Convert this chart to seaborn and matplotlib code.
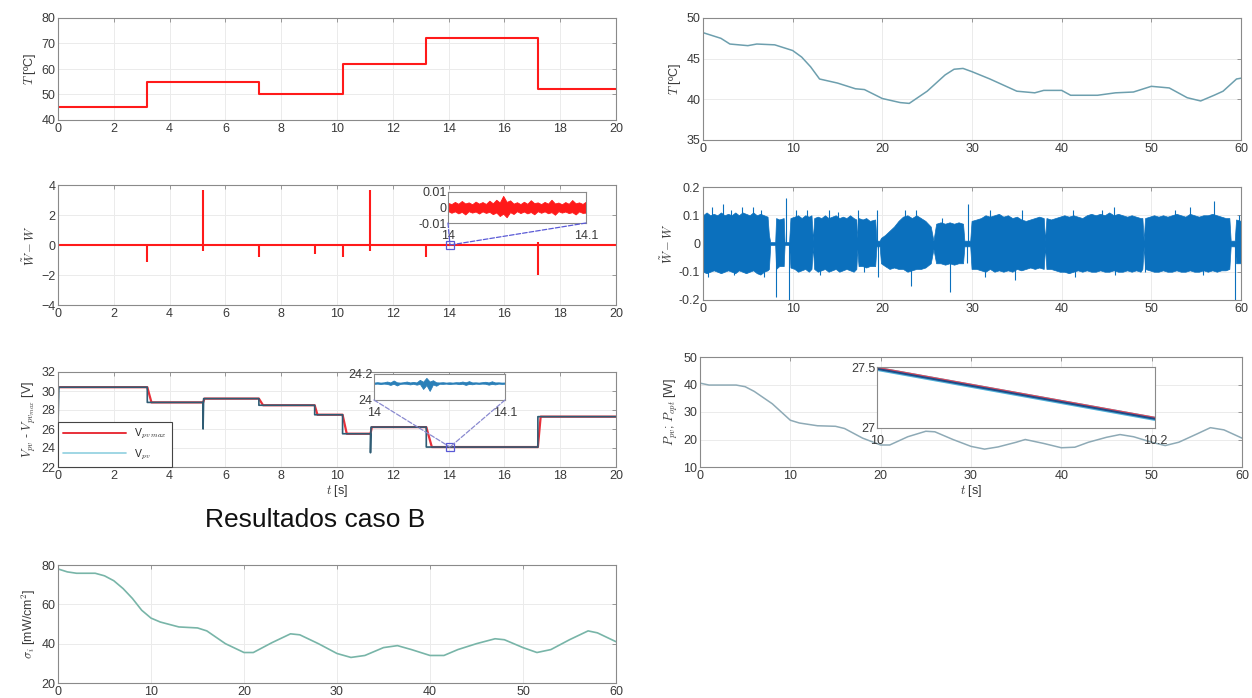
import numpy as np
import matplotlib
matplotlib.use('Agg')
import matplotlib.pyplot as plt
from matplotlib.patches import ConnectionPatch
from matplotlib.lines import Line2D
import seaborn as sns

# ---------------- data ----------------
# left column, 0-20 s
temp_step_t = [0, 3.2, 7.2, 10.2, 13.2, 17.2, 20]
temp_step_v = [45, 55, 50, 62, 72, 52, 52]

err_base_t = [0, 20]
err_base_v = [0, 0]
spike_t = [3.2, 5.2, 7.2, 9.2, 10.2, 11.2, 13.2, 17.2]
spike_lo = [-1.1, -0.4, -0.8, -0.6, -0.8, -0.4, -0.8, -2.0]
spike_hi = [0, 3.7, 0, 0, 0, 3.7, 0, 0.2]

# zoom of the error at 14-14.1 s (envelope of the noise)
err_zoom_t = [14.0, 14.0025, 14.005, 14.0075, 14.01, 14.0125, 14.015, 14.0175, 14.02, 14.0225,
              14.025, 14.0275, 14.03, 14.0325, 14.035, 14.0375, 14.04, 14.0425, 14.045, 14.0475,
              14.05, 14.0525, 14.055, 14.0575, 14.06, 14.0625, 14.065, 14.0675, 14.07, 14.0725,
              14.075, 14.0775, 14.08, 14.0825, 14.085, 14.0875, 14.09, 14.0925, 14.095, 14.0975, 14.1]
err_zoom_hi = [0.0030, 0.0022, 0.0036, 0.0024, 0.0042, 0.0026, 0.0033, 0.0021, 0.0038, 0.0025,
               0.0035, 0.0023, 0.0044, 0.0027, 0.0050, 0.0032, 0.0075, 0.0036, 0.0046, 0.0025,
               0.0034, 0.0022, 0.0037, 0.0024, 0.0047, 0.0028, 0.0033, 0.0022, 0.0036, 0.0025,
               0.0050, 0.0026, 0.0032, 0.0021, 0.0035, 0.0024, 0.0048, 0.0027, 0.0033, 0.0023, 0.0038]
err_zoom_lo = [-0.0023, -0.0034, -0.0025, -0.0038, -0.0028, -0.0045, -0.0024, -0.0033, -0.0026, -0.0039,
               -0.0025, -0.0035, -0.0028, -0.0043, -0.0032, -0.0055, -0.0040, -0.0063, -0.0030, -0.0042,
               -0.0024, -0.0036, -0.0026, -0.0038, -0.0029, -0.0044, -0.0024, -0.0034, -0.0025, -0.0037,
               -0.0030, -0.0047, -0.0024, -0.0033, -0.0026, -0.0036, -0.0030, -0.0045, -0.0025, -0.0035, -0.0033]

# PV voltage (Vpv max red, Vpv measured)
vmax_t = [0, 3.2, 3.35, 5.2, 5.25, 7.2, 7.35, 9.2, 9.3, 10.2, 10.35, 11.2, 11.25, 13.2, 13.4, 17.2, 17.3, 20]
vmax_v = [30.4, 30.4, 28.8, 28.8, 29.2, 29.2, 28.5, 28.5, 27.5, 27.5, 25.5, 25.5, 26.2, 26.2, 24.1, 24.1, 27.3, 27.3]
vpv_t = [0, 0.03, 3.2, 3.2, 5.2, 5.2, 5.22, 7.2, 7.2, 9.2, 9.2, 10.2, 10.2, 11.2, 11.2, 11.22,
         13.2, 13.2, 17.2, 17.2, 20]
vpv_v = [26.5, 30.4, 30.4, 28.8, 28.8, 26.0, 29.2, 29.2, 28.5, 28.5, 27.5, 27.5, 25.5, 25.5, 23.5, 26.2,
         26.2, 24.1, 24.1, 27.3, 27.3]
vpv_zoom_t = err_zoom_t
vpv_zoom_base = 24.13
vpv_zoom_up = [0.004, 0.007, 0.004, 0.006, 0.012, 0.005, 0.020, 0.006, 0.004, 0.007,
               0.012, 0.005, 0.009, 0.005, 0.025, 0.010, 0.040, 0.012, 0.022, 0.006,
               0.005, 0.007, 0.004, 0.006, 0.004, 0.007, 0.006, 0.012, 0.006, 0.015,
               0.005, 0.006, 0.004, 0.007, 0.010, 0.005, 0.014, 0.005, 0.006, 0.004, 0.005]
vpv_zoom_dn = [0.006, 0.004, 0.007, 0.004, 0.006, 0.014, 0.005, 0.018, 0.006, 0.004,
               0.005, 0.010, 0.005, 0.012, 0.006, 0.045, 0.015, 0.060, 0.010, 0.020,
               0.005, 0.006, 0.004, 0.007, 0.005, 0.004, 0.008, 0.005, 0.014, 0.006,
               0.009, 0.004, 0.006, 0.004, 0.005, 0.012, 0.006, 0.010, 0.004, 0.006, 0.005]

# irradiance sigma_i, 0-60 s
sig_t = [0, 1, 2, 4, 5, 6, 7, 8, 9, 10, 11, 13, 15, 16, 18, 20, 21, 23, 25, 26, 28, 30, 31.5,
         33, 35, 36.5, 38, 40, 41.5, 43, 45, 47, 48, 50, 51.5, 53, 55, 57, 58, 60]
sig_v = [78, 76.5, 75.8, 75.8, 74.5, 72, 68, 63, 57, 53, 51, 48.5, 48, 46.5, 40, 35.5, 35.5, 40.5,
         45, 44.5, 40, 35, 33, 34, 38, 39, 37, 34, 34, 37, 40, 42.5, 42, 38, 35.5, 37, 42, 46.5, 45.5, 41]

# right column, 0-60 s
tr_t = [0, 2, 3, 5, 6, 8, 10, 11, 12, 13, 15, 17, 18, 20, 22, 23, 25, 27, 28, 29, 30, 32,
        35, 37, 38, 40, 41, 44, 46, 48, 50, 52, 54, 55.5, 57, 58, 59.5, 60]
tr_v = [48.2, 47.5, 46.8, 46.6, 46.8, 46.7, 46.0, 45.2, 44.0, 42.5, 42.0, 41.3, 41.2, 40.1, 39.6,
        39.5, 41.0, 43.0, 43.7, 43.8, 43.4, 42.5, 41.0, 40.8, 41.1, 41.1, 40.5, 40.5, 40.8, 40.9,
        41.6, 41.4, 40.2, 39.8, 40.5, 41.0, 42.5, 42.6]

wr_t = [0, 0.4, 0.8, 1.2, 1.6, 2.0, 2.4, 2.8, 3.2, 3.6, 4.0, 4.4, 4.8, 5.2, 5.6, 6.0, 6.4, 6.8, 7.2,
        7.35, 7.5, 8.05, 8.15, 8.5, 9.0, 9.1, 9.6, 9.75,
        10.2, 10.6, 11.0, 11.4, 11.8, 12.1, 12.25, 12.4,
        12.8, 13.2, 13.6, 14.0, 14.4, 14.8, 15.2, 15.6, 16.0, 16.4, 16.8, 17.1, 17.2, 17.35,
        17.8, 18.2, 18.6, 19.2, 19.35, 19.7, 19.85,
        20.3, 20.8, 21.3, 21.8, 22.3, 22.8, 23.3, 23.8, 24.3, 24.8, 25.4, 25.7, 26.0,
        26.5, 27.0, 27.5, 28.0, 28.5, 29.0, 29.15, 29.8, 29.95,
        30.5, 31.0, 31.5, 32.0, 32.5, 33.0, 33.5, 34.0, 34.5, 35.0, 35.5, 36.0, 36.5, 37.0, 37.5,
        38.0, 38.15, 38.3,
        38.8, 39.3, 39.8, 40.3, 40.8, 41.3, 41.8, 42.3, 42.8, 43.3, 43.8, 44.3, 44.8, 45.3, 45.8,
        46.3, 46.8, 47.3, 47.8, 48.3, 48.8, 49.0, 49.15, 49.3,
        49.8, 50.3, 50.8, 51.3, 51.8, 52.3, 52.8, 53.3, 53.8, 54.3, 54.8, 55.3, 55.8, 56.3, 56.8,
        57.3, 57.8, 58.3, 58.7, 58.85, 59.3, 59.45, 60]
wr_hi = [.10, .11, .10, .105, .10, .11, .10, .105, .10, .11, .10, .11, .105, .10, .11, .10, .105, .10, .095,
         .03, .005, .005, .09, .085, .09, .005, .005, .09,
         .095, .10, .09, .10, .095, .10, .01, .09,
         .095, .09, .10, .09, .095, .10, .09, .095, .09, .10, .09, .085, .02, .09,
         .085, .09, .08, .085, .01, .01, .02,
         .03, .045, .06, .08, .095, .10, .09, .10, .09, .08, .06, .01, .07,
         .075, .07, .075, .07, .075, .07, .01, .01, .08,
         .085, .09, .10, .095, .10, .105, .095, .10, .09, .095, .085, .08, .085, .09, .095,
         .09, .01, .09,
         .085, .09, .095, .10, .095, .10, .095, .09, .10, .105, .10, .105, .10, .11, .10,
         .105, .10, .095, .10, .095, .09, .09, .01, .09,
         .095, .10, .095, .10, .095, .10, .105, .10, .095, .105, .10, .095, .10, .10, .105,
         .10, .095, .09, .09, .01, .01, .085, .08]
wr_lo = [-.10, -.105, -.10, -.095, -.10, -.105, -.10, -.095, -.10, -.105, -.095, -.10, -.105, -.10, -.095, -.105, -.11, -.10, -.095,
         -.09, -.005, -.005, -.09, -.08, -.08, -.005, -.005, -.085,
         -.09, -.10, -.095, -.09, -.10, -.09, -.01, -.09,
         -.10, -.095, -.09, -.10, -.095, -.09, -.10, -.095, -.09, -.095, -.10, -.09, -.02, -.08,
         -.08, -.085, -.08, -.08, -.01, -.01, -.07,
         -.08, -.09, -.085, -.09, -.09, -.10, -.095, -.09, -.09, -.085, -.07, -.02, -.07,
         -.07, -.075, -.07, -.075, -.07, -.07, -.01, -.01, -.09,
         -.09, -.095, -.10, -.09, -.10, -.095, -.10, -.095, -.10, -.09, -.095, -.09, -.085, -.09, -.085,
         -.09, -.01, -.09,
         -.09, -.095, -.10, -.10, -.105, -.10, -.095, -.10, -.095, -.10, -.10, -.095, -.10, -.10, -.095,
         -.10, -.10, -.095, -.10, -.095, -.10, -.09, -.01, -.09,
         -.095, -.10, -.10, -.095, -.10, -.10, -.095, -.10, -.10, -.095, -.10, -.10, -.095, -.10, -.095,
         -.10, -.095, -.095, -.09, -.01, -.01, -.07, -.07]
wr_up_spk_t = [1.0, 2.2, 3.1, 4.3, 5.6, 6.5, 9.3, 10.4, 11.6, 14.0, 15.1, 17.3, 19.4, 22.5, 23.8,
               26.6, 29.5, 32.0, 35.6, 41.3, 44.5, 45.8, 52.6, 54.3, 57.0, 59.8]
wr_up_spk_v = [0.13, 0.14, 0.12, 0.13, 0.13, 0.12, 0.16, 0.12, 0.12, 0.12, 0.11, 0.12, 0.12, 0.12, 0.12,
               0.09, 0.14, 0.12, 0.12, 0.12, 0.12, 0.13, 0.12, 0.13, 0.15, 0.10]
wr_dn_spk_t = [0.6, 3.5, 6.8, 8.1, 9.6, 13.0, 18.0, 19.5, 23.2, 27.5, 29.4, 31.5, 34.8, 41.5, 46.0,
               49.3, 55.8, 59.3]
wr_dn_spk_v = [-0.12, -0.11, -0.12, -0.19, -0.2, -0.11, -0.10, -0.12, -0.15, -0.17, -0.07, -0.12,
               -0.13, -0.12, -0.11, -0.10, -0.11, -0.2]

pw_t = [0, 1, 4, 5, 6, 8, 9, 10, 11, 13, 15, 16, 18, 20, 21, 23, 25, 26, 28, 30, 31.5, 33, 35,
        36, 38, 40, 41.5, 43, 45, 46.5, 48, 50, 51.5, 53, 55, 56.5, 58, 60]
pw_v = [40.5, 39.8, 39.8, 39.2, 37.5, 33, 30, 27, 26, 25, 24.8, 24, 20.5, 18, 18, 21, 23, 22.8,
        20, 17.5, 16.5, 17.3, 19, 20, 18.6, 17, 17.2, 19, 20.8, 21.8, 21, 19, 17.8, 19, 22, 24.3,
        23.5, 20.5]
pw_zoom_t = [10, 10.2]
pw_opt_zoom = [27.495, 27.085]
pw_pv_zoom = [27.485, 27.075]

# ---------------- style ----------------
sns.set_theme(style='white')
plt.rcParams['font.family'] = ['Liberation Sans', 'DejaVu Sans']
plt.rcParams['mathtext.fontset'] = 'cm'

W, H = 1252, 698
RED = '#ff1a1a'
BLUE = '#0b70bd'
TEAL = '#6d9fae'
SPINE = '#8a8a8a'
TXT = '#3a3a3a'


def rect(x0, y0, x1, y1):
    return [x0 / W, 1 - y1 / H, (x1 - x0) / W, (y1 - y0) / H]


def style(ax, xt, yt, ylab=None, fs=9):
    for s in ax.spines.values():
        s.set_color(SPINE)
        s.set_linewidth(0.8)
    ax.tick_params(direction='in', top=True, right=True, length=3, width=0.6,
                   color=SPINE, labelsize=fs, labelcolor=TXT, pad=2)
    ax.set_xticks(xt)
    ax.set_yticks(yt)
    ax.set_xlim(xt[0], xt[-1])
    ax.set_ylim(yt[0], yt[-1])
    ax.grid(True, color='#ebebeb', lw=0.7)
    ax.set_axisbelow(True)
    if ylab:
        ax.set_ylabel(ylab, fontsize=9, color=TXT, labelpad=2)


def inset_style(ax, xt, yt, xlab, ylab):
    style(ax, xt, yt)
    ax.set_xticklabels(xlab)
    ax.set_yticklabels(ylab)
    ax.grid(False)
    ax.tick_params(top=False, right=False)
    ax.tick_params(axis='x', pad=5)
    ax.tick_params(axis='y', pad=1)


fig = plt.figure(figsize=(W / 100, H / 100), dpi=100)

x20 = [0, 2, 4, 6, 8, 10, 12, 14, 16, 18, 20]
x60 = [0, 10, 20, 30, 40, 50, 60]

# --- T step profile
ax1 = fig.add_axes(rect(58, 18, 616, 120))
sns.lineplot(x=temp_step_t, y=temp_step_v, ax=ax1, color=RED, lw=1.5,
             drawstyle='steps-post', estimator=None, sort=False)
style(ax1, x20, [40, 50, 60, 70, 80], r'$T$ [ºC]')

# --- W error
ax2 = fig.add_axes(rect(58, 185, 616, 305))
sns.lineplot(x=err_base_t, y=err_base_v, ax=ax2, color=RED, lw=1.5, estimator=None, sort=False)
ax2.vlines(spike_t, spike_lo, spike_hi, color=RED, lw=1.5)
style(ax2, x20, [-4, -2, 0, 2, 4], r'$\tilde{W} - W$')

ins2 = fig.add_axes(rect(448, 192, 586, 223))
ins2.fill_between(err_zoom_t, err_zoom_lo, err_zoom_hi, color=RED, lw=0.6)
inset_style(ins2, [14, 14.1], [-0.01, 0, 0.01], ['14', '14.1'], ['-0.01', '0', '0.01'])
zx2 = np.mean(ins2.get_xlim())
ax2.plot([zx2], [0], marker='s', ms=6, mfc='none', mec='#5a5ad6', mew=0.9)
for cx in ins2.get_xlim():
    fig.add_artist(ConnectionPatch(xyA=(cx, -0.01), coordsA=ins2.transData,
                                   xyB=(zx2, 0), coordsB=ax2.transData,
                                   color='#5a5ad6', ls='--', lw=0.9))

# --- Vpv
ax3 = fig.add_axes(rect(58, 372, 616, 467))
sns.lineplot(x=vmax_t, y=vmax_v, ax=ax3, color='#e8303a', lw=1.6, estimator=None, sort=False)
sns.lineplot(x=vpv_t, y=vpv_v, ax=ax3, color='#2f5c74', lw=1.2, estimator=None, sort=False)
style(ax3, x20, [22, 24, 26, 28, 30, 32], r'$V_{pv}$ - $V_{pv_{max}}$ [V]')
ax3.set_xlabel(r'$t$ [s]', fontsize=9, color=TXT, labelpad=1)
handles = [Line2D([], [], color='#e8303a', lw=1.4), Line2D([], [], color='#8fd0df', lw=1.2)]
leg = ax3.legend(handles, [r'V$_{pv\ max}$', r'V$_{pv}$'], loc='lower left', borderaxespad=0,
                 fancybox=False, framealpha=1, edgecolor='#444444', fontsize=7.5,
                 handlelength=6, labelspacing=0.6, borderpad=0.5)
leg.get_frame().set_linewidth(0.8)

ins3 = fig.add_axes(rect(374, 374, 505, 400))
lo3 = [vpv_zoom_base - d for d in vpv_zoom_dn]
hi3 = [vpv_zoom_base + u for u in vpv_zoom_up]
ins3.fill_between(vpv_zoom_t, lo3, hi3, color='#2a7fb8', lw=0.6)
inset_style(ins3, [14, 14.1], [24, 24.2], ['14', '14.1'], ['24', '24.2'])
zx3 = np.mean(ins3.get_xlim())
zy3 = 24.1
ax3.plot([zx3], [zy3], marker='s', ms=6, mfc='none', mec='#5a5ad6', mew=0.9)
for cx in ins3.get_xlim():
    fig.add_artist(ConnectionPatch(xyA=(cx, 24), coordsA=ins3.transData,
                                   xyB=(zx3, zy3), coordsB=ax3.transData,
                                   color='#8a8ad0', ls='--', lw=0.9))

fig.text(315 / W, 1 - 520 / H, 'Resultados caso B', ha='center', va='center',
         fontsize=19, color='#111111')

# --- sigma_i
ax4 = fig.add_axes(rect(58, 565, 616, 683))
sns.lineplot(x=sig_t, y=sig_v, ax=ax4, color='#78b5a8', lw=1.2, estimator=None, sort=False)
style(ax4, x60, [20, 40, 60, 80], r'$\sigma_i$ [mW/cm$^2$]')

# --- right column
ax5 = fig.add_axes(rect(703, 18, 1241, 140))
sns.lineplot(x=tr_t, y=tr_v, ax=ax5, color=TEAL, lw=1.1, estimator=None, sort=False)
style(ax5, x60, [35, 40, 45, 50], r'$T$ [ºC]')

ax6 = fig.add_axes(rect(703, 187, 1241, 300))
ax6.fill_between(wr_t, wr_lo, wr_hi, color=BLUE, lw=0.5)
ax6.vlines(wr_up_spk_t, 0, wr_up_spk_v, color=BLUE, lw=0.8)
ax6.vlines(wr_dn_spk_t, wr_dn_spk_v, 0, color=BLUE, lw=0.8)
style(ax6, x60, [-0.2, -0.1, 0, 0.1, 0.2], r'$\tilde{W} - W$')
ax6.set_yticklabels(['-0.2', '-0.1', '0', '0.1', '0.2'])

ax7 = fig.add_axes(rect(700, 357, 1242, 467))
sns.lineplot(x=pw_t, y=pw_v, ax=ax7, color='#8eaab6', lw=1.1, estimator=None, sort=False)
style(ax7, x60, [10, 20, 30, 40, 50], r'$P_{pv}$; $P_{opt}$ [W]')
ax7.set_xlabel(r'$t$ [s]', fontsize=9, color=TXT, labelpad=1)

ins7 = fig.add_axes(rect(877, 367, 1155, 428))
sns.lineplot(x=pw_zoom_t, y=pw_pv_zoom, ax=ins7, color='#4fb0d8', lw=3.0, estimator=None, sort=False)
sns.lineplot(x=pw_zoom_t, y=pw_opt_zoom, ax=ins7, color='#e04858', lw=1.2, estimator=None, sort=False)
sns.lineplot(x=pw_zoom_t, y=pw_pv_zoom, ax=ins7, color='#1f4a86', lw=1.4, estimator=None, sort=False)
inset_style(ins7, [10, 10.2], [27, 27.5], ['10', '10.2'], ['27', '27.5'])

fig.savefig('out.png', dpi=100)
